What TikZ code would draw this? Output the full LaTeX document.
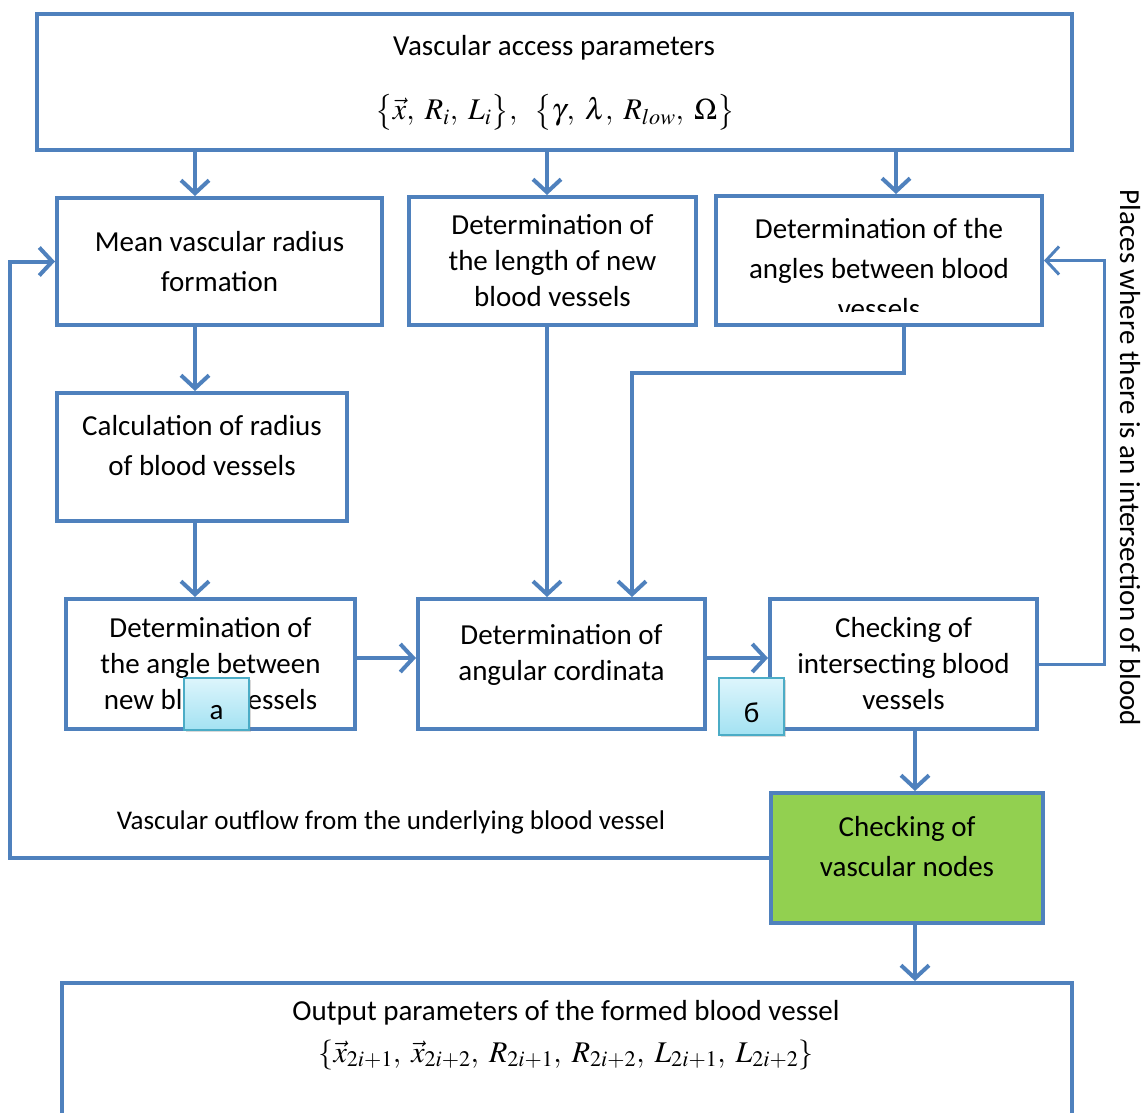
\documentclass[tikz,border=0pt]{standalone}
\usepackage{mathptmx}
\usepackage[no-math]{fontspec}
\setmainfont{Carlito}
\usetikzlibrary{arrows.meta,shadows}
\definecolor{lineblue}{HTML}{4F81BD}
\definecolor{nodegreen}{HTML}{92D050}
\definecolor{tagedge}{HTML}{4BACC6}
\definecolor{tagtop}{HTML}{DDF5FC}
\definecolor{tagbottom}{HTML}{A3E2F2}
\newcommand{\sink}{\rule[-24pt]{0pt}{24pt}}

\begin{document}
\begin{tikzpicture}[
    x=1pt, y=-1pt,
    font=\fontsize{29}{40}\selectfont,
    box/.style={draw=lineblue, line width=4pt, fill=white, align=center, inner sep=0pt},
    tight/.style={font=\fontsize{29}{36}\selectfont},
    greenbox/.style={box, fill=nodegreen},
    tag/.style={draw=tagedge, line width=1.5pt, top color=tagtop, bottom color=tagbottom, text height=32pt, inner sep=0pt, drop shadow={shadow xshift=2pt, shadow yshift=-2pt, opacity=0.3}},
    eq/.style={font=\fontsize{30}{36}\selectfont, inner sep=0pt},
    arrow/.style={draw=lineblue, line width=4pt, -{Straight Barb[length=13pt, width=28pt]}}
  ]
    \useasboundingbox (0,0) rectangle (1145,1112);
    \clip (0,0) rectangle (1145,1112);

    % columns and rows of the connectors
    \coordinate (colA) at (195,0);
    \coordinate (colB) at (547,0);
    \coordinate (colC) at (896,0);
    \coordinate (colD) at (915,0);
    \coordinate (colE) at (904,0);
    \coordinate (colF) at (632,0);
    \coordinate (rowH) at (0,658);
    \coordinate (rowK) at (0,373);

    \node[box, minimum width=1035, minimum height=136] (params) at (554.5,82) {};
    \node (paramstitle) at (554,48) {Vascular access parameters};
    \node[eq] (paramseq) at (555,112) {$\bigl\{\vec{x},\ R_i,\ L_i\bigr\},\ \ \bigl\{\gamma,\ \lambda,\ R_{low},\ \Omega\bigr\}$};

    \node[box, minimum width=325, minimum height=127] (mean) at (219.5,261.5) {Mean vascular radius\\formation};
    \node[box, tight, minimum width=287, minimum height=128] (length) at (552.5,261) {Determination of\\the length of new\\blood vessels};
    \node[box, minimum width=326, minimum height=129] (angles) at (879,260.5) {};
    \begin{scope}
      \clip (716,198) rectangle (1042,311);
      \node[align=center] (anglestext) at (879,269) {Determination of the\\angles between blood\\vessels};
    \end{scope}
    \node[box, minimum width=290, minimum height=128] (calc) at (202,457) {Calculation of radius\\of blood vessels\sink};
    \node[box, tight, minimum width=289, minimum height=130] (newang) at (210.5,664) {Determination of\\the angle between\\new blood vessels};
    \node[box, tight, minimum width=287, minimum height=130] (angular) at (561.5,664) {Determination of\\angular cordinata\sink};
    \node[box, tight, minimum width=267, minimum height=130] (check) at (903.5,664) {Checking of\\intersecting blood\\vessels};
    \node[greenbox, minimum width=272, minimum height=130] (nodes) at (907,858) {Checking of\\vascular nodes\sink};

    \node[box, minimum width=1010, minimum height=154] (output) at (567,1060) {};
    \node (outputtitle) at (566,1013) {Output parameters of the formed blood vessel};
    \node[eq] (outputeq) at (566,1055) {$\{\vec{x}_{2i+1},\;\vec{x}_{2i+2},\;R_{2i+1},\;R_{2i+2},\;L_{2i+1},\;L_{2i+2}\}$};

    \node[font=\fontsize{27}{30}\selectfont] (outflow) at (391,822) {Vascular outflow from the underlying blood vessel};
    \node[rotate=-90] (places) at (1130,458) {Places where there is an intersection of blood};

    \draw[arrow] (params.south -| colA) -- (mean.north -| colA);
    \draw[arrow] (params.south -| colB) -- (length.north -| colB);
    \draw[arrow] (params.south -| colC) -- (angles.north -| colC);
    \draw[arrow] (mean.south -| colA) -- (calc.north -| colA);
    \draw[arrow] (calc.south -| colA) -- (newang.north -| colA);
    \draw[arrow] (newang.east |- rowH) -- (angular.west |- rowH);
    \draw[arrow] (length.south -| colB) -- (angular.north -| colB);
    \draw[arrow] (angles.south -| colE) -- (colE |- rowK) -| (angular.north -| colF);
    \draw[arrow] (angular.east |- rowH) -- (check.west |- rowH);
    \draw[arrow] (check.south -| colD) -- (nodes.north -| colD);
    \draw[arrow] (nodes.south -| colD) -- (output.north -| colD);
    \draw[arrow] (nodes.west) -| ([xshift=-45pt]mean.west) -- (mean.west);
    \draw[arrow, line width=3pt] (check.east) -| ([xshift=60pt]angles.east) -- (angles.east);

    \node[tag, minimum width=65, minimum height=52] (taga) at (216.5,704) {а};
    \node[tag, minimum width=65, minimum height=57] (tagb) at (751.5,706.5) {б};
  \end{tikzpicture}
\end{document}
